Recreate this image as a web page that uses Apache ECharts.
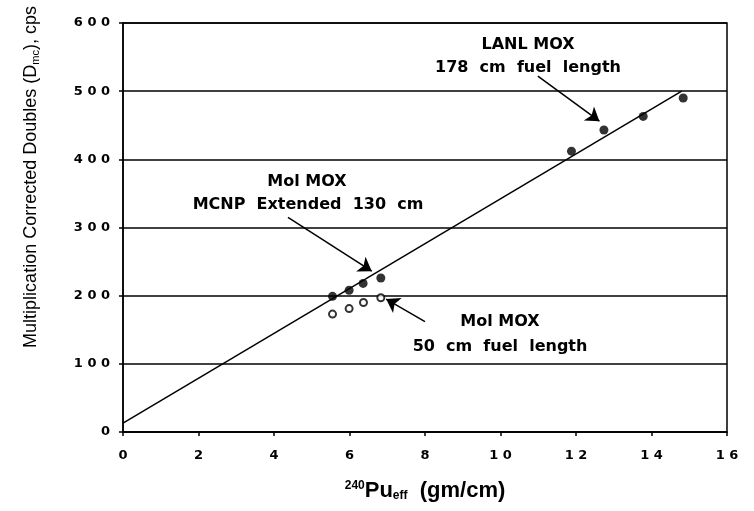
<!DOCTYPE html>
<html>
<head>
<meta charset="utf-8">
<script src="https://cdn.jsdelivr.net/npm/echarts@6/dist/echarts.min.js"></script>
<style>
  html, body { margin: 0; padding: 0; background: #fff; }
  #chart { width: 754px; height: 511px; }
</style>
</head>
<body>
<div id="chart"></div>
<script>
// Mol MOX, MCNP extended 130 cm (filled)
const molExtX = [5.55, 5.99, 6.36, 6.83]
const molExtY = [199, 208, 218, 226]
// Mol MOX, 50 cm fuel length (open)
const mol50X = [5.55, 5.99, 6.37, 6.83]
const mol50Y = [173, 181, 190, 197]
// LANL MOX, 178 cm fuel length (filled)
const lanlX = [11.88, 12.74, 13.78, 14.84]
const lanlY = [412, 443, 463, 490]
// fit line end points
const fitX = [0, 14.8]
const fitY = [13, 500]

const pairs = (xs, ys) => xs.map((x, i) => [x, ys[i]])
const spaced = v => String(v).split('').join(' ')

const chart = echarts.init(document.getElementById('chart'))

const arrowLine = (from, to) => ({
  type: 'line',
  silent: true,
  data: [],
  markLine: {
    silent: true,
    symbol: ['none', 'arrow'],
    symbolSize: 13,
    lineStyle: { color: '#000', width: 1.5, type: 'solid' },
    label: { show: false },
    data: [[{ coord: from }, { coord: to }]]
  }
})

const noteFont = 'bold 16px DejaVu Sans'
const note = (x, y, text) => ({
  type: 'text', x: x, y: y,
  style: { text: text, align: 'center', verticalAlign: 'middle', font: noteFont, fill: '#000' }
})

chart.setOption({
  animation: false,
  grid: {
    left: 123,
    right: 27,
    top: 23,
    bottom: 79,
    show: true,
    borderColor: '#000',
    borderWidth: 1.5
  },
  xAxis: {
    type: 'value',
    min: 0,
    max: 16,
    interval: 2,
    name: '{sup|240}{big|Pu}{sub|eff}{big|  (gm/cm)}',
    nameLocation: 'middle',
    nameGap: 48,
    nameTextStyle: {
      rich: {
        sup: { fontSize: 12, fontWeight: 'bold', verticalAlign: 'top', padding: [0, 0, 10, 0], fontFamily: 'Liberation Sans' },
        big: { fontSize: 22, fontWeight: 'bold', fontFamily: 'Liberation Sans' },
        sub: { fontSize: 12, fontWeight: 'bold', verticalAlign: 'bottom', padding: [9, 0, 0, 0], fontFamily: 'Liberation Sans' }
      }
    },
    axisLine: { show: true, lineStyle: { color: '#000', width: 1.5 } },
    axisTick: { show: true, length: 4, lineStyle: { color: '#000', width: 1.5 } },
    splitLine: { show: false },
    axisLabel: {
      color: '#000',
      fontWeight: 'bold',
      fontSize: 13,
      fontFamily: 'DejaVu Sans',
      margin: 17,
      formatter: v => spaced(v)
    }
  },
  yAxis: {
    type: 'value',
    min: 0,
    max: 600,
    interval: 100,
    axisLine: { show: true, lineStyle: { color: '#000', width: 1.5 } },
    axisTick: { show: true, length: 4, lineStyle: { color: '#000', width: 1.5 } },
    splitLine: { show: true, lineStyle: { color: '#000', width: 1.5 } },
    axisLabel: {
      color: '#000',
      fontWeight: 'bold',
      fontSize: 13,
      fontFamily: 'DejaVu Sans',
      margin: 13,
      formatter: v => spaced(v)
    }
  },
  graphic: [
    {
      type: 'text',
      x: 31,
      y: 177,
      rotation: Math.PI / 2,
      style: {
        text: '{n|Multiplication Corrected Doubles (D}{s|mc}{n|), cps}',
        align: 'center',
        verticalAlign: 'middle',
        fill: '#000',
        rich: {
          n: { fontSize: 18, fontFamily: 'Liberation Sans', fill: '#000' },
          s: { fontSize: 11, fontFamily: 'Liberation Sans', fill: '#000', verticalAlign: 'bottom', padding: [9, 0, 0, 0] }
        }
      }
    },
    note(528, 45, 'LANL MOX'),
    note(528, 68, '178  cm  fuel  length'),
    note(307, 182, 'Mol MOX'),
    note(308, 205, 'MCNP  Extended  130  cm'),
    note(500, 322, 'Mol MOX'),
    note(500, 347, '50  cm  fuel  length')
  ],
  series: [
    {
      name: 'fit',
      type: 'line',
      data: pairs(fitX, fitY),
      symbol: 'none',
      lineStyle: { color: '#000', width: 1.5 },
      z: 3
    },
    {
      name: 'Mol MOX 130 cm',
      type: 'scatter',
      data: pairs(molExtX, molExtY),
      symbol: 'circle',
      symbolSize: 9,
      itemStyle: { color: '#000' },
      z: 4
    },
    {
      name: 'Mol MOX 50 cm',
      type: 'scatter',
      data: pairs(mol50X, mol50Y),
      symbol: 'circle',
      symbolSize: 7,
      itemStyle: { color: '#fff', borderColor: '#000', borderWidth: 2 },
      z: 4
    },
    {
      name: 'LANL MOX',
      type: 'scatter',
      data: pairs(lanlX, lanlY),
      symbol: 'circle',
      symbolSize: 9,
      itemStyle: { color: '#000' },
      z: 4
    },
    arrowLine([4.37, 315], [6.59, 236]),
    arrowLine([8.0, 162], [6.97, 195]),
    arrowLine([10.99, 522], [12.62, 456])
  ]
})
</script>
</body>
</html>
